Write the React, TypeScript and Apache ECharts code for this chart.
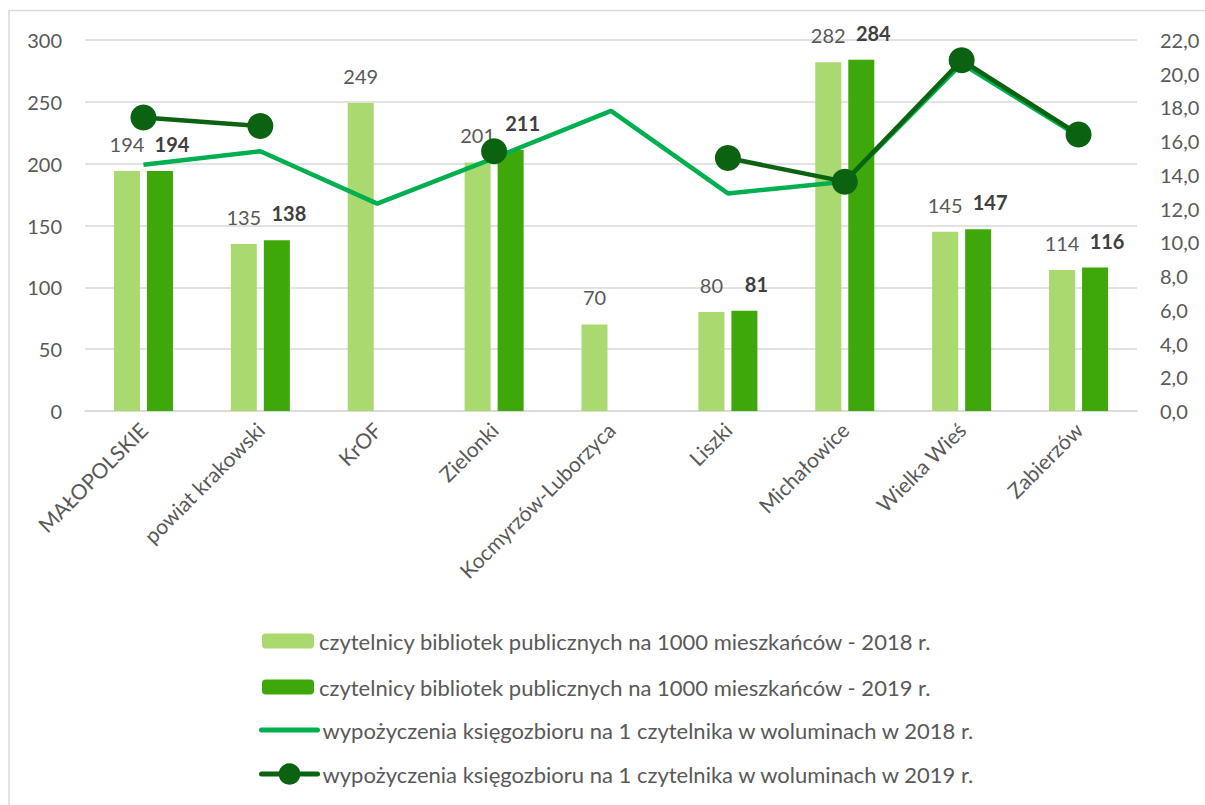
import React, { useEffect, useRef } from "react";
import * as echarts from "echarts";

const categories = [
  "MAŁOPOLSKIE",
  "powiat krakowski",
  "KrOF",
  "Zielonki",
  "Kocmyrzów-Luborzyca",
  "Liszki",
  "Michałowice",
  "Wielka Wieś",
  "Zabierzów",
];
const readers2018 = [194, 135, 249, 201, 70, 80, 282, 145, 114];
const readers2019 = [194, 138, null, 211, null, 81, 284, 147, 116];
const loans2018 = [14.6, 15.4, 12.3, 15.0, 17.8, 12.9, 13.6, 20.6, 16.3];
const loans2019 = [17.4, 16.9, null, 15.4, null, 15.0, 13.6, 20.8, 16.4];

const seriesNames = [
  "czytelnicy bibliotek publicznych na 1000 mieszkańców - 2018 r.",
  "czytelnicy bibliotek publicznych na 1000 mieszkańców - 2019 r.",
  "wypożyczenia księgozbioru na 1 czytelnika w woluminach w 2018 r.",
  "wypożyczenia księgozbioru na 1 czytelnika w woluminach w 2019 r.",
];
const leftTicks = { min: 0, max: 300, interval: 50 };
const rightTicks = { min: 0, max: 22, interval: 2 };

const FONT = "Lato, 'Open Sans', sans-serif";
const TXT = "#595959";
const GRID = "#d9d9d9";
const C_BAR18 = "#A9D96F";
const C_BAR19 = "#3EA80A";
const C_LINE18 = "#00B050";
const C_LINE19 = "#0B6311";

export default function App() {
  const ref = useRef<HTMLDivElement>(null);
  useEffect(() => {
    if (!ref.current) return;
    const chart = echarts.init(ref.current, null, { renderer: "svg" });
    const legendText = { fontFamily: FONT, fontSize: 22, color: TXT, lineHeight: 20 };
    chart.setOption({
      animation: false,
      textStyle: { fontFamily: FONT, color: TXT },
      graphic: [
        {
          type: "rect",
          shape: { x: 9, y: 10.5, width: 1400, height: 1000 },
          style: { fill: "none", stroke: GRID, lineWidth: 1.5 },
          silent: true,
        },
      ],
      grid: { left: 85, right: 68, top: 40, bottom: 394, containLabel: false },
      legend: [
        {
          orient: "vertical",
          left: 257,
          top: 625,
          itemWidth: 52,
          itemHeight: 15,
          itemGap: 24,
          textStyle: legendText,
          data: [seriesNames[0], seriesNames[1]],
        },
        {
          orient: "vertical",
          left: 254,
          top: 714,
          itemWidth: 56,
          itemHeight: 27,
          itemGap: 22,
          textStyle: legendText,
          data: [
            {
              name: seriesNames[2],
              itemStyle: { opacity: 0 },
              lineStyle: { width: 5, cap: "round", color: C_LINE18 },
            },
            {
              name: seriesNames[3],
              lineStyle: { width: 5, cap: "round", color: C_LINE19 },
            },
          ],
        },
      ],
      xAxis: {
        type: "category",
        data: categories,
        axisLine: { show: true, lineStyle: { color: GRID, width: 1.5 } },
        axisTick: { show: false },
        axisLabel: {
          interval: 0,
          rotate: 45,
          margin: 15,
          fontFamily: FONT,
          fontSize: 21,
          color: TXT,
        },
      },
      yAxis: [
        {
          type: "value",
          ...leftTicks,
          axisLine: { show: false },
          axisTick: { show: false },
          splitLine: { lineStyle: { color: GRID, width: 1.5 } },
          axisLabel: { margin: 23, fontFamily: FONT, fontSize: 20, color: TXT },
        },
        {
          type: "value",
          ...rightTicks,
          position: "right",
          axisLine: { show: false },
          axisTick: { show: false },
          splitLine: { show: false },
          axisLabel: {
            margin: 23,
            fontFamily: FONT,
            fontSize: 20,
            color: TXT,
            formatter: (v: number) => v.toFixed(1).replace(".", ","),
          },
        },
      ],
      series: [
        {
          name: seriesNames[0],
          type: "bar",
          data: readers2018,
          barWidth: 26,
          barGap: "27%",
          itemStyle: { color: C_BAR18 },
          label: {
            show: true,
            position: "top",
            distance: 17,
            fontFamily: FONT,
            fontSize: 20,
            color: TXT,
          },
        },
        {
          name: seriesNames[1],
          type: "bar",
          data: readers2019,
          barWidth: 26,
          itemStyle: { color: C_BAR19 },
          label: {
            show: true,
            position: "top",
            distance: 17,
            offset: [12, 0],
            fontFamily: FONT,
            fontSize: 20,
            fontWeight: "bold",
            color: "#404040",
          },
        },
        {
          name: seriesNames[2],
          type: "line",
          yAxisIndex: 1,
          data: loans2018,
          symbol: "none",
          connectNulls: false,
          lineStyle: { color: C_LINE18, width: 4.5 },
          itemStyle: { color: C_LINE18 },
        },
        {
          name: seriesNames[3],
          type: "line",
          yAxisIndex: 1,
          data: loans2019,
          symbol: "circle",
          symbolSize: 26,
          connectNulls: false,
          lineStyle: { color: C_LINE19, width: 4.5 },
          itemStyle: { color: C_LINE19 },
        },
      ],
    });
    return () => chart.dispose();
  }, []);
  return (
    <div
      ref={ref}
      style={{ position: "absolute", left: 0, top: 0, width: 1205, height: 805 }}
    />
  );
}
